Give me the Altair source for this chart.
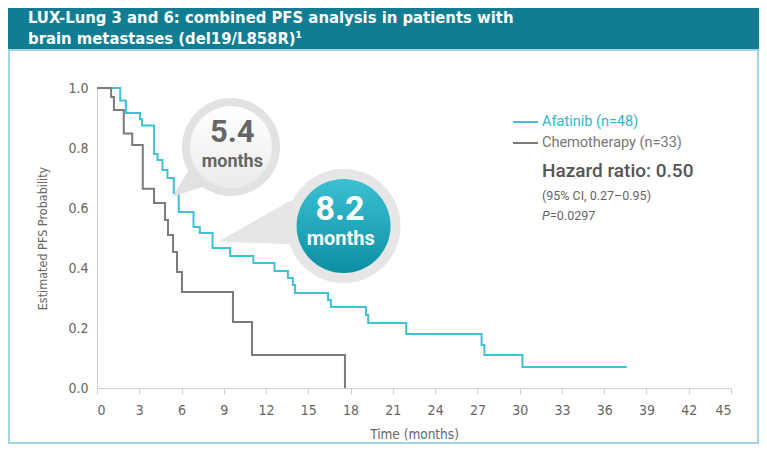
import altair as alt
import pandas as pd

# ---------------- data ----------------
title_lines = ["LUX-Lung 3 and 6: combined PFS analysis in patients with",
               "brain metastases (del19/L858R)\u00b9"]
arms = ["Afatinib (n=48)", "Chemotherapy (n=33)"]
arm_colors = ["#3fc1d5", "#7b7b7b"]

afa_time = [0, 1.65, 2.05, 3.05, 3.2, 4.05, 4.3, 4.65, 5.0, 5.45, 5.8, 6.85, 7.3,
            8.2, 9.45, 11.1, 12.6, 13.55, 13.9, 14.05, 16.4, 16.6, 19.1, 19.25,
            21.95, 27.3, 27.5, 30.2, 37.6]
afa_surv = [1.0, 0.958, 0.917, 0.896, 0.875, 0.78, 0.76, 0.727, 0.70, 0.65, 0.587,
            0.537, 0.517, 0.467, 0.44, 0.417, 0.39, 0.367, 0.343, 0.317, 0.293, 0.27,
            0.243, 0.217, 0.18, 0.143, 0.11, 0.07, 0.07]

chemo_time = [0, 1.0, 1.2, 1.9, 2.5, 3.25, 4.05, 4.83, 5.04, 5.4, 5.68, 6.03,
              9.65, 11.0, 17.6]
chemo_surv = [1.0, 0.97, 0.927, 0.848, 0.81, 0.664, 0.617, 0.56, 0.51, 0.453,
              0.387, 0.32, 0.22, 0.11, 0.0]

x_ticks = list(range(0, 46, 3))
y_ticks = [0.0, 0.2, 0.4, 0.6, 0.8, 1.0]

median_labels = ["5.4", "8.2"]
median_unit = "months"
stats_lines = ["Hazard ratio: 0.50", "(95% CI, 0.27\u20130.95)", "P", "=0.0297"]

x_title = "Time (months)"
y_title = "Estimated PFS Probability"

# ---------------- styling ----------------
TEAL_BAND = "#107d92"
FRAME = "#9fd6e1"
AX_GRAY = "#d0d0d0"
TXT_GRAY = "#666666"
NARROW = "'DejaVu Sans Condensed', 'Roboto', sans-serif"
SANS = "Roboto"

W, H = 634, 300
PAD = {"left": 89, "top": 80, "right": 28, "bottom": 56}

df = pd.DataFrame({
    "t": afa_time + chemo_time,
    "s": afa_surv + chemo_surv,
    "arm": [arms[0]] * len(afa_time) + [arms[1]] * len(chemo_time),
})

xs = alt.Scale(domain=[0, 45], nice=False, zero=False)
ys = alt.Scale(domain=[0, 1], nice=False)
X = alt.X("t:Q", scale=xs, axis=alt.Axis(
    values=x_ticks, title=x_title, grid=False, domainColor=AX_GRAY,
    tickColor=AX_GRAY, tickSize=6, labelColor=TXT_GRAY, labelFont=NARROW,
    labelFontSize=14, labelPadding=9, titleFont=NARROW, titleFontSize=13.5,
    titleColor=TXT_GRAY, titleFontWeight="normal", titlePadding=10))
Y = alt.Y("s:Q", scale=ys, axis=alt.Axis(
    values=y_ticks, format=".1f", title=y_title, grid=False, domainColor=AX_GRAY,
    ticks=False, labelColor=TXT_GRAY, labelFont=NARROW, labelFontSize=14,
    labelPadding=9, titleFont=NARROW, titleFontSize=12.5, titleColor=TXT_GRAY,
    titleFontWeight="normal", titlePadding=18))

lines = alt.Chart(df).mark_line(interpolate="step-after", strokeWidth=2).encode(
    x=X, y=Y,
    color=alt.Color("arm:N", scale=alt.Scale(domain=arms, range=arm_colors), legend=None),
)


def one(**cols):
    return pd.DataFrame({k: [v] for k, v in cols.items()})


def ptext(label, x, y, **kw):
    return alt.Chart(one(label=label)).mark_text(baseline="middle", **kw).encode(
        text="label:N", x=alt.value(x), y=alt.value(y))


band = alt.Chart(one(a=0)).mark_rect(color=TEAL_BAND).encode(
    x=alt.value(-89), x2=alt.value(662), y=alt.value(-80), y2=alt.value(-38))
frame = alt.Chart(one(a=0)).mark_rect(filled=False, stroke=FRAME, strokeWidth=2).encode(
    x=alt.value(-88), x2=alt.value(661), y=alt.value(-38), y2=alt.value(355))

title1 = ptext(title_lines[0], -69, -70, align="left", font=NARROW, fontSize=16.5,
               fontWeight="bold", color="white")
title2 = ptext(title_lines[1], -69, -49, align="left", font=NARROW, fontSize=16.5,
               fontWeight="bold", color="white")

# legend
leg1 = alt.Chart(one(a=0)).mark_rule(color=arm_colors[0], strokeWidth=2).encode(
    x=alt.value(416), x2=alt.value(441), y=alt.value(34))
leg2 = alt.Chart(one(a=0)).mark_rule(color=arm_colors[1], strokeWidth=2).encode(
    x=alt.value(416), x2=alt.value(441), y=alt.value(55))
legt1 = ptext(arms[0], 445, 34, align="left", font=SANS, fontSize=14.5, color="#2fb8cc")
legt2 = ptext(arms[1], 445, 55, align="left", font=SANS, fontSize=14.5, color="#777777")
hr = ptext(stats_lines[0], 445, 83, align="left", font=SANS, fontSize=19,
           fontWeight=500, color="#555555")
ci = ptext(stats_lines[1], 445, 108, align="left", font=SANS, fontSize=12.5, color="#666666")
pv1 = ptext(stats_lines[2], 445, 128, align="left", font=SANS, fontSize=12.5,
            fontStyle="italic", color="#666666")
pv2 = ptext(stats_lines[3], 453, 128, align="left", font=SANS, fontSize=12.5, color="#666666")

# speech bubbles (annotations placed in data units)
b1 = one(t=9.51, s=0.803)
b2 = one(t=17.5, s=0.54)
r1o, r1i = 49, 41
r2o, r2i = 57, 47
tail1 = "M -0.85 0.45 L -1.2 1.02 L -0.55 0.8 Z"
tail2 = "M -0.9 -0.46 L -2.2 0.27 L -0.93 0.32 Z"

ring1 = alt.Chart(b1).mark_circle(color="#e2e2e2", opacity=1, size=4 * r1o ** 2).encode(x=X, y=Y)
tl1 = alt.Chart(b1).mark_point(shape=tail1, filled=True, color="#e2e2e2", opacity=1,
                               size=4 * r1o ** 2).encode(x=X, y=Y)
in1 = alt.Chart(b1).mark_circle(
    color=alt.Gradient(gradient="linear", x1=0, y1=0, x2=0, y2=1,
                       stops=[alt.GradientStop(offset=0, color="#ffffff"),
                              alt.GradientStop(offset=1, color="#ebebeb")]),
    opacity=1, size=4 * r1i ** 2).encode(x=X, y=Y)
ring2 = alt.Chart(b2).mark_circle(color="#e6e6e6", opacity=1, size=4 * r2o ** 2).encode(x=X, y=Y)
tl2 = alt.Chart(b2).mark_point(shape=tail2, filled=True, color="#e6e6e6", opacity=1,
                               size=4 * r2o ** 2).encode(x=X, y=Y)
in2 = alt.Chart(b2).mark_circle(
    color=alt.Gradient(gradient="linear", x1=0, y1=0, x2=0, y2=1,
                       stops=[alt.GradientStop(offset=0, color="#3cc0d2"),
                              alt.GradientStop(offset=1, color="#0b8fa3")]),
    opacity=1, size=4 * r2i ** 2).encode(x=X, y=Y)

bt = pd.DataFrame({
    "t": [9.6, 9.6, 17.25, 17.3],
    "s": [0.85, 0.753, 0.593, 0.497],
    "label": [median_labels[0], median_unit, median_labels[1], median_unit],
})
txt51 = alt.Chart(bt.iloc[[0]]).mark_text(font=SANS, fontSize=31, fontWeight="bold",
                                          color="#666666").encode(x=X, y=Y, text="label:N")
txt52 = alt.Chart(bt.iloc[[1]]).mark_text(font=SANS, fontSize=18, fontWeight="bold",
                                          color="#666666").encode(x=X, y=Y, text="label:N")
txt81 = alt.Chart(bt.iloc[[2]]).mark_text(font=SANS, fontSize=34, fontWeight="bold",
                                          color="white").encode(x=X, y=Y, text="label:N")
txt82 = alt.Chart(bt.iloc[[3]]).mark_text(font=SANS, fontSize=20, fontWeight="bold",
                                          color="white").encode(x=X, y=Y, text="label:N")

chart = alt.layer(
    band, frame, title1, title2, lines,
    ring1, tl1, in1, ring2, tl2, in2,
    txt51, txt52, txt81, txt82,
    leg1, leg2, legt1, legt2, hr, ci, pv1, pv2,
).properties(
    width=W, height=H, padding=PAD, autosize=alt.AutoSizeParams(type="none"),
).configure_view(stroke=None)

chart.save("out.html", embed_options={"renderer": "svg", "actions": False})
